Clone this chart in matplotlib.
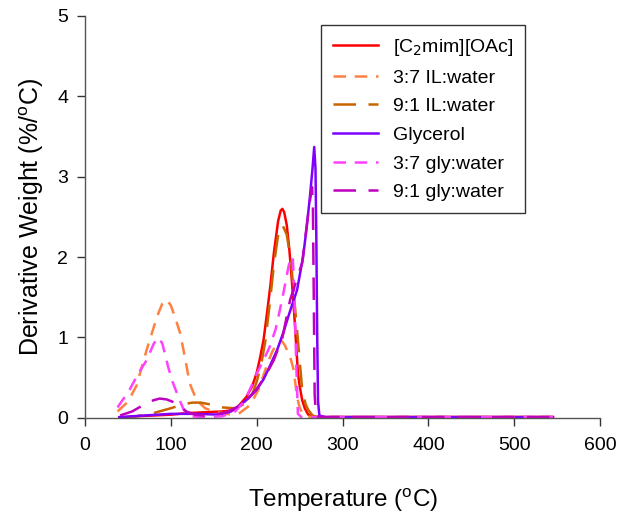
import matplotlib
matplotlib.use("Agg")
import matplotlib.pyplot as plt

plt.rcParams['font.family'] = ['Liberation Sans', 'DejaVu Sans']

# [C2mim][OAc]
t_il = [40, 60, 80, 100, 120, 140, 160, 175, 188, 195, 200, 204, 208, 212, 216, 220, 225, 228, 230, 232, 235, 238, 241, 244, 248, 250, 253, 256, 260, 270, 300, 400, 545]
v_il = [0.0, 0.02, 0.03, 0.04, 0.06, 0.07, 0.08, 0.1, 0.26, 0.4, 0.56, 0.75, 0.97, 1.3, 1.65, 2.05, 2.45, 2.58, 2.6, 2.56, 2.4, 2.1, 1.7, 1.25, 0.56, 0.4, 0.22, 0.12, 0.04, 0.01, 0.01, 0.01, 0.01]

# 3:7 IL:water
t_il37 = [38, 50, 60, 72, 84, 90, 95, 100, 105, 111, 117, 122, 130, 140, 150, 160, 170, 180, 190, 197, 202, 207, 212, 218, 223, 229, 233, 237, 240, 243, 247, 250, 253, 258, 265, 300, 545]
v_il37 = [0.08, 0.2, 0.4, 0.85, 1.26, 1.42, 1.47, 1.4, 1.25, 1.05, 0.72, 0.43, 0.22, 0.12, 0.08, 0.06, 0.04, 0.06, 0.14, 0.25, 0.35, 0.5, 0.66, 0.82, 0.92, 0.96, 0.9, 0.8, 0.72, 0.6, 0.26, 0.13, 0.06, 0.02, 0.01, 0.01, 0.01]

# 9:1 IL:water
t_il91 = [40, 60, 80, 100, 115, 125, 135, 149, 160, 175, 185, 195, 200, 205, 210, 215, 220, 225, 230, 235, 240, 244, 248, 253, 257, 260, 265, 270, 300, 545]
v_il91 = [0.0, 0.02, 0.06, 0.12, 0.17, 0.19, 0.19, 0.16, 0.13, 0.12, 0.17, 0.3, 0.45, 0.65, 0.95, 1.4, 1.9, 2.28, 2.4, 2.28, 1.95, 1.45, 0.97, 0.35, 0.17, 0.1, 0.03, 0.01, 0.01, 0.01]

# Glycerol
t_gly = [40, 70, 100, 130, 157, 170, 181, 190, 200, 208, 216, 224, 231, 238, 247, 254, 258, 262, 265, 267, 268.5, 269.5, 270.5, 271.5, 273, 280, 300, 545]
v_gly = [0.01, 0.03, 0.05, 0.05, 0.04, 0.08, 0.16, 0.24, 0.35, 0.48, 0.66, 0.85, 1.06, 1.3, 1.59, 2.0, 2.35, 2.75, 3.1, 3.37, 3.1, 2.2, 1.0, 0.2, 0.03, 0.01, 0.01, 0.01]

# 3:7 gly:water
t_gly37 = [38, 52, 62, 72, 80, 85, 90, 97, 102, 107, 115, 122, 140, 160, 175, 185, 192, 200, 208, 215, 222, 227, 232, 237, 240, 242, 244, 246, 248, 252, 260, 300, 545]
v_gly37 = [0.13, 0.35, 0.55, 0.72, 0.92, 1.0, 0.93, 0.63, 0.45, 0.31, 0.1, 0.02, 0.01, 0.02, 0.08, 0.2, 0.35, 0.55, 0.72, 0.88, 1.1, 1.34, 1.6, 1.88, 2.0, 2.0, 1.5, 0.7, 0.05, 0.01, 0.01, 0.01, 0.01]

# 9:1 gly:water
t_gly91 = [41, 55, 68, 80, 87, 95, 107, 118, 128, 138, 150, 165, 178, 190, 200, 210, 220, 230, 239, 246, 253, 259, 262, 264.5, 265.5, 266.5, 267.5, 269, 275, 300, 545]
v_gly91 = [0.03, 0.08, 0.16, 0.22, 0.24, 0.23, 0.18, 0.08, 0.04, 0.03, 0.04, 0.07, 0.14, 0.24, 0.36, 0.52, 0.72, 1.0, 1.47, 1.7, 1.93, 2.45, 2.7, 2.87, 2.6, 1.5, 0.3, 0.02, 0.01, 0.01, 0.01]

labels = ['[C$_2$mim][OAc]', '3:7 IL:water', '9:1 IL:water', 'Glycerol', '3:7 gly:water', '9:1 gly:water']

fig = plt.figure(figsize=(6.2, 5.14), dpi=100)
ax = fig.add_axes([0.137, 0.187, 0.831, 0.782])

lw = 1.8
ax.plot(t_il, v_il, color='#FF0000', lw=lw, label=labels[0])
ax.plot(t_il37, v_il37, color='#FF8040', lw=lw, ls=(0, (5, 3.5)), label=labels[1])
ax.plot(t_il91, v_il91, color='#C86400', lw=lw, ls=(0, (9, 5)), label=labels[2])
ax.plot(t_gly, v_gly, color='#8000FF', lw=lw, label=labels[3])
ax.plot(t_gly37, v_gly37, color='#FF40FF', lw=lw, ls=(0, (5, 3.5)), label=labels[4])
ax.plot(t_gly91, v_gly91, color='#C000C0', lw=lw, ls=(0, (9, 5)), label=labels[5])

ax.set_xlim(0, 600)
ax.set_ylim(0, 5)
ax.set_xticks(range(0, 601, 100))
ax.set_yticks(range(0, 6))
ax.spines['top'].set_visible(False)
ax.spines['right'].set_visible(False)
for s in ('left', 'bottom'):
    ax.spines[s].set_color('#555555')
    ax.spines[s].set_linewidth(1.0)
ax.tick_params(direction='out', length=6, width=1, color='#333333', labelsize=14, pad=8)
ax.tick_params(axis='y', pad=6)
ax.set_xlabel('Temperature ($^{\\mathregular{o}}$C)', fontsize=17.5, labelpad=23)
ax.set_ylabel('Derivative Weight (%/$^{\\mathregular{o}}$C)', fontsize=18, labelpad=8)

leg = ax.legend(loc='upper left', bbox_to_anchor=(0.459, 0.978), fontsize=14, frameon=True,
                fancybox=False, edgecolor='black', handlelength=2.3, handletextpad=0.75,
                labelspacing=0.57, borderpad=0.62, borderaxespad=0)
leg.get_frame().set_linewidth(1.0)

fig.savefig('out.png', dpi=100)
